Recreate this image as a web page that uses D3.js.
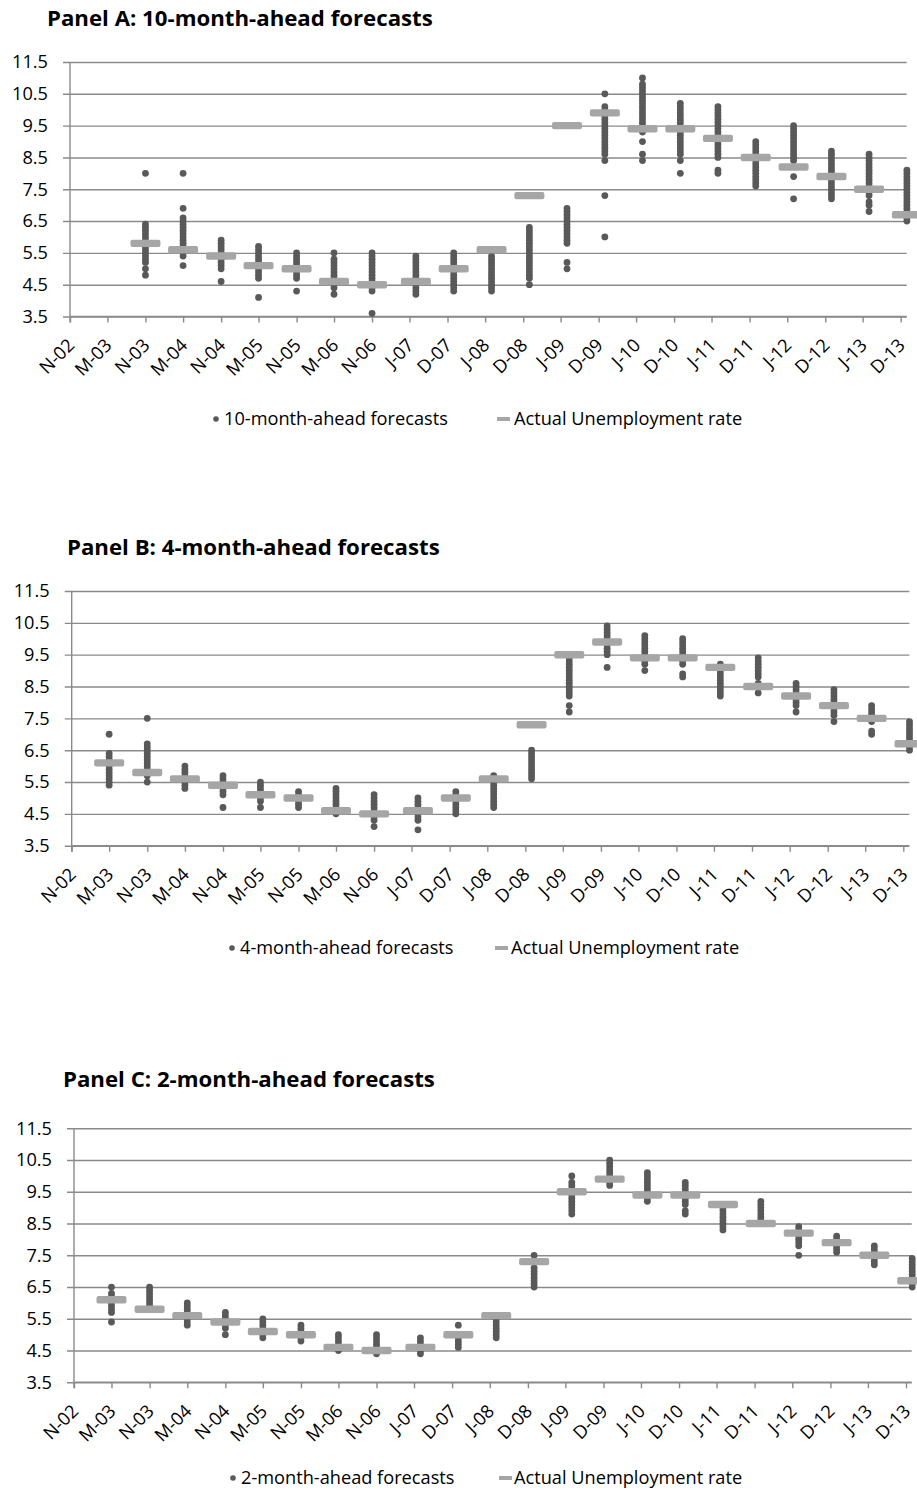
<!DOCTYPE html>
<html>
<head>
<meta charset="utf-8">
<script src="https://cdn.jsdelivr.net/npm/d3@7"></script>
<style>
  html, body { margin: 0; padding: 0; background: #fff; }
  svg { display: block; }
  text { font-family: "Open Sans", sans-serif; fill: #000; }
</style>
</head>
<body>
<script>
// ---------------- DATA ----------------
const tickLabels = ["N-02","M-03","N-03","M-04","N-04","M-05","N-05","M-06","N-06","J-07","D-07","J-08","D-08","J-09","D-09","J-10","D-10","J-11","D-11","J-12","D-12","J-13","D-13"];
const tickDates = ["2002-11","2003-05","2003-11","2004-05","2004-11","2005-05","2005-11","2006-05","2006-11","2007-05","2007-11","2008-05","2008-11","2009-05","2009-11","2010-05","2010-11","2011-05","2011-11","2012-05","2012-11","2013-05","2013-11"];
const yTicks = [3.5, 4.5, 5.5, 6.5, 7.5, 8.5, 9.5, 10.5, 11.5];

// target dates of the forecasts (panel B and C); panel A starts one period later
const targetDates = ["2003-05","2003-11","2004-05","2004-11","2005-05","2005-11","2006-05","2006-11","2007-06","2007-12","2008-06","2008-12","2009-06","2009-12","2010-06","2010-12","2011-06","2011-12","2012-06","2012-12","2013-06","2013-12"];
const targetDatesA = ["2003-11","2004-05","2004-11","2005-05","2005-11","2006-05","2006-11","2007-06","2007-12","2008-06","2008-12","2009-06","2009-12","2010-06","2010-12","2011-06","2011-12","2012-06","2012-12","2013-06","2013-12"];

const actualA = [5.8,5.6,5.4,5.1,5.0,4.6,4.5,4.6,5.0,5.6,7.3,9.5,9.9,9.4,9.4,9.1,8.5,8.2,7.9,7.5,6.7];
const actualB = [6.1,5.8,5.6,5.4,5.1,5.0,4.6,4.5,4.6,5.0,5.6,7.3,9.5,9.9,9.4,9.4,9.1,8.5,8.2,7.9,7.5,6.7];
const actualC = [6.1,5.8,5.6,5.4,5.1,5.0,4.6,4.5,4.6,5.0,5.6,7.3,9.5,9.9,9.4,9.4,9.1,8.5,8.2,7.9,7.5,6.7];

// distinct forecast values per target date
const forecastsA = [
  [8.0,6.4,6.3,6.2,6.1,6.0,5.9,5.8,5.7,5.6,5.5,5.4,5.3,5.2,5.0,4.8],
  [8.0,6.9,6.6,6.5,6.4,6.3,6.2,6.1,6.0,5.9,5.8,5.7,5.6,5.5,5.4,5.1],
  [5.9,5.8,5.7,5.6,5.5,5.4,5.3,5.2,5.1,5.0,4.6],
  [5.7,5.6,5.5,5.4,5.3,5.2,5.1,5.0,4.9,4.8,4.7,4.1],
  [5.5,5.4,5.3,5.2,5.1,5.0,4.9,4.8,4.7,4.3],
  [5.5,5.3,5.2,5.1,5.0,4.9,4.8,4.7,4.6,4.5,4.4,4.2],
  [5.5,5.4,5.3,5.2,5.1,5.0,4.9,4.8,4.7,4.6,4.5,4.4,4.3,3.6],
  [5.4,5.3,5.2,5.1,5.0,4.9,4.8,4.7,4.6,4.5,4.4,4.3,4.2],
  [5.5,5.4,5.3,5.2,5.1,5.0,4.9,4.8,4.7,4.6,4.5,4.4,4.3],
  [5.4,5.3,5.2,5.1,5.0,4.9,4.8,4.7,4.6,4.5,4.4,4.3],
  [6.3,6.2,6.1,6.0,5.9,5.8,5.7,5.6,5.5,5.4,5.3,5.2,5.1,5.0,4.9,4.8,4.7,4.5],
  [6.9,6.8,6.7,6.6,6.5,6.4,6.3,6.2,6.1,6.0,5.9,5.8,5.2,5.0],
  [10.5,10.1,10.0,9.9,9.8,9.7,9.6,9.5,9.4,9.3,9.2,9.1,9.0,8.9,8.8,8.7,8.6,8.4,7.3,6.0],
  [11.0,10.8,10.7,10.6,10.5,10.4,10.3,10.2,10.1,10.0,9.9,9.8,9.7,9.6,9.5,9.4,9.3,9.0,8.6,8.4],
  [10.2,10.1,10.0,9.9,9.8,9.7,9.6,9.5,9.4,9.3,9.2,9.1,9.0,8.9,8.8,8.7,8.6,8.4,8.0],
  [10.1,10.0,9.9,9.8,9.7,9.6,9.5,9.4,9.3,9.2,9.1,9.0,8.9,8.8,8.7,8.6,8.5,8.1,8.0],
  [9.0,8.9,8.8,8.7,8.6,8.5,8.4,8.3,8.2,8.1,8.0,7.9,7.8,7.7,7.6],
  [9.5,9.4,9.3,9.2,9.1,9.0,8.9,8.8,8.7,8.6,8.5,8.4,7.9,7.2],
  [8.7,8.6,8.5,8.4,8.3,8.2,8.1,8.0,7.9,7.8,7.7,7.6,7.5,7.4,7.3,7.2],
  [8.6,8.5,8.4,8.3,8.2,8.1,8.0,7.9,7.8,7.7,7.6,7.5,7.4,7.3,7.1,7.0,6.8],
  [8.1,8.0,7.9,7.8,7.7,7.6,7.5,7.4,7.3,7.2,7.1,7.0,6.9,6.8,6.7,6.6,6.5]
];
const forecastsB = [
  [7.0,6.4,6.3,6.2,6.1,6.0,5.9,5.8,5.7,5.6,5.5,5.4],
  [7.5,6.7,6.6,6.5,6.4,6.3,6.2,6.1,6.0,5.9,5.8,5.7,5.5],
  [6.0,5.9,5.8,5.7,5.6,5.5,5.4,5.3],
  [5.7,5.6,5.5,5.4,5.3,5.2,5.1,4.7],
  [5.5,5.4,5.3,5.2,5.1,5.0,4.9,4.7],
  [5.2,5.1,5.0,4.9,4.8,4.7],
  [5.3,5.2,5.1,5.0,4.9,4.8,4.7,4.6,4.5],
  [5.1,5.0,4.9,4.8,4.7,4.6,4.5,4.4,4.3,4.1],
  [5.0,4.9,4.8,4.7,4.6,4.5,4.4,4.3,4.0],
  [5.2,5.1,5.0,4.9,4.8,4.7,4.6,4.5],
  [5.7,5.6,5.5,5.4,5.3,5.2,5.1,5.0,4.9,4.8,4.7],
  [6.5,6.4,6.3,6.2,6.1,6.0,5.9,5.8,5.7,5.6],
  [9.4,9.3,9.2,9.1,9.0,8.9,8.8,8.7,8.6,8.5,8.4,8.3,8.2,7.9,7.7],
  [10.4,10.3,10.2,10.1,10.0,9.9,9.8,9.7,9.6,9.5,9.1],
  [10.1,10.0,9.9,9.8,9.7,9.6,9.5,9.4,9.3,9.2,9.0],
  [10.0,9.9,9.8,9.7,9.6,9.5,9.4,9.3,9.2,8.9,8.8],
  [9.2,9.1,9.0,8.9,8.8,8.7,8.6,8.5,8.4,8.3,8.2],
  [9.4,9.3,9.2,9.1,9.0,8.9,8.8,8.6,8.5,8.3],
  [8.6,8.5,8.4,8.3,8.2,8.1,8.0,7.9,7.7],
  [8.4,8.3,8.2,8.1,8.0,7.9,7.8,7.7,7.6,7.4],
  [7.9,7.8,7.7,7.6,7.5,7.4,7.1,7.0],
  [7.4,7.3,7.2,7.1,7.0,6.9,6.8,6.7,6.6,6.5]
];
const forecastsC = [
  [6.5,6.3,6.2,6.1,6.0,5.9,5.8,5.7,5.4],
  [6.5,6.4,6.3,6.2,6.1,6.0,5.9,5.8],
  [6.0,5.9,5.8,5.7,5.6,5.5,5.4,5.3],
  [5.7,5.6,5.5,5.4,5.3,5.2,5.0],
  [5.5,5.4,5.3,5.2,5.1,5.0,4.9],
  [5.3,5.2,5.1,5.0,4.9,4.8],
  [5.0,4.9,4.8,4.7,4.6,4.5],
  [5.0,4.9,4.8,4.7,4.6,4.5,4.4],
  [4.9,4.8,4.7,4.6,4.5,4.4],
  [5.3,4.9,4.8,4.7,4.6],
  [5.5,5.4,5.3,5.2,5.1,5.0,4.9],
  [7.5,7.1,7.0,6.9,6.8,6.7,6.6,6.5],
  [10.0,9.8,9.7,9.6,9.5,9.4,9.3,9.2,9.1,9.0,8.9,8.8],
  [10.5,10.4,10.3,10.2,10.1,10.0,9.9,9.8,9.7],
  [10.1,10.0,9.9,9.8,9.7,9.6,9.5,9.4,9.3,9.2],
  [9.8,9.7,9.6,9.5,9.4,9.3,9.2,9.1,8.9,8.8],
  [9.0,8.9,8.8,8.7,8.6,8.5,8.4,8.3],
  [9.2,9.1,9.0,8.9,8.8,8.7,8.6,8.5],
  [8.4,8.3,8.2,8.1,8.0,7.9,7.8,7.5],
  [8.1,8.0,7.9,7.8,7.7,7.6],
  [7.8,7.7,7.6,7.5,7.4,7.3,7.2],
  [7.4,7.3,7.2,7.1,7.0,6.9,6.8,6.7,6.6,6.5]
];

const titles = ["Panel A: 10-month-ahead forecasts","Panel B: 4-month-ahead forecasts","Panel C: 2-month-ahead forecasts"];
const seriesNames = ["10-month-ahead forecasts","4-month-ahead forecasts","2-month-ahead forecasts"];
const actualName = "Actual Unemployment rate";

// ---------------- LAYOUT ----------------
const parse = d3.timeParse("%Y-%m");
const W = 917, H = 1499;
const GRID = "#8a8a8a", DOT = "#595959", BAR = "#a6a6a6";
const FONT = 18.2;

const panels = [
  {title: titles[0], name: seriesNames[0], dates: targetDatesA, actual: actualA, fc: forecastsA,
   titleX: 47, titleY: 26, x0: 70, x1: 900.7, yTop: 62, yBot: 316.5, gridRight: 906.7,
   legY: 419, legDot: 216, legText: 224, legLine: 497, legText2: 514},
  {title: titles[1], name: seriesNames[1], dates: targetDates, actual: actualB, fc: forecastsB,
   titleX: 67, titleY: 555, x0: 71.7, x1: 903.3, yTop: 591, yBot: 845.7, gridRight: 909.3,
   legY: 948, legDot: 232, legText: 240, legLine: 495, legText2: 511},
  {title: titles[2], name: seriesNames[2], dates: targetDates, actual: actualC, fc: forecastsC,
   titleX: 63, titleY: 1087, x0: 74, x1: 906, yTop: 1128.3, yBot: 1382.3, gridRight: 911.7,
   legY: 1478, legDot: 233, legText: 241, legLine: 499, legText2: 514}
];

const svg = d3.select("body").append("svg").attr("width", W).attr("height", H);

// measure title font size so the title spans the reference width
const probe = svg.append("text").attr("font-weight", "bold").attr("font-size", 20).text(titles[0]);
const titleSize = 20 * 386 / probe.node().getComputedTextLength();
probe.remove();

panels.forEach(p => {
  const g = svg.append("g");
  const x = d3.scaleTime()
    .domain([parse(tickDates[0]), parse(tickDates[tickDates.length - 1])])
    .range([p.x0, p.x1]);
  const y = d3.scaleLinear().domain([3.5, 11.5]).range([p.yBot, p.yTop]);

  // title
  g.append("text").attr("x", p.titleX).attr("y", p.titleY)
    .attr("font-weight", "bold").attr("font-size", titleSize).text(p.title);

  // y axis with gridlines
  const yAxis = d3.axisLeft(y).tickValues(yTicks).tickFormat(d3.format(".1f"))
    .tickSizeInner(-(p.gridRight - p.x0)).tickSizeOuter(0).tickPadding(22);
  const ga = g.append("g").attr("transform", `translate(${p.x0},0)`).call(yAxis);
  ga.select(".domain").remove();
  ga.selectAll(".tick line").attr("x1", -7).attr("stroke", GRID).attr("stroke-width", 1.4);
  ga.selectAll(".tick text").attr("font-size", FONT).attr("fill", "#000")
    .attr("font-family", "Open Sans, sans-serif");

  // y axis vertical line
  g.append("line").attr("x1", p.x0).attr("x2", p.x0).attr("y1", p.yTop).attr("y2", p.yBot + 6)
    .attr("stroke", GRID).attr("stroke-width", 1.4);

  // x axis
  const xAxis = d3.axisBottom(x).tickValues(tickDates.map(parse))
    .tickFormat((d, i) => tickLabels[i]).tickSizeInner(6).tickSizeOuter(0);
  const gx = g.append("g").attr("transform", `translate(0,${p.yBot})`).call(xAxis);
  gx.select(".domain").attr("stroke", GRID).attr("stroke-width", 1.4)
    .attr("d", `M${p.x0},0H${p.gridRight}`);
  gx.selectAll(".tick line").attr("stroke", GRID).attr("stroke-width", 1.4);
  gx.selectAll(".tick text")
    .attr("y", 0).attr("dy", 0)
    .attr("transform", "translate(5,30) rotate(-45)")
    .attr("text-anchor", "end")
    .attr("font-size", FONT).attr("fill", "#000")
    .attr("font-family", "Open Sans, sans-serif");

  // forecast dots
  const pts = [];
  p.fc.forEach((vals, i) => vals.forEach(v => pts.push({d: parse(p.dates[i]), v})));
  g.append("g").selectAll("circle").data(pts).join("circle")
    .attr("cx", d => x(d.d)).attr("cy", d => y(d.v)).attr("r", 3.4).attr("fill", DOT);

  // actual dash markers
  g.append("g").selectAll("rect").data(p.actual.map((v, i) => ({d: parse(p.dates[i]), v})))
    .join("rect")
    .attr("x", d => x(d.d) - 15).attr("y", d => y(d.v) - 3.7)
    .attr("width", 30).attr("height", 7.4).attr("rx", 2).attr("fill", BAR);

  // legend
  const lg = g.append("g");
  lg.append("circle").attr("cx", p.legDot).attr("cy", p.legY).attr("r", 2.8).attr("fill", DOT);
  lg.append("text").attr("x", p.legText).attr("y", p.legY).attr("dy", "0.35em")
    .attr("font-size", FONT).text(p.name);
  lg.append("rect").attr("x", p.legLine).attr("y", p.legY - 2).attr("width", 13).attr("height", 4)
    .attr("fill", BAR);
  lg.append("text").attr("x", p.legText2).attr("y", p.legY).attr("dy", "0.35em")
    .attr("font-size", FONT).text(actualName);
});
</script>
</body>
</html>
